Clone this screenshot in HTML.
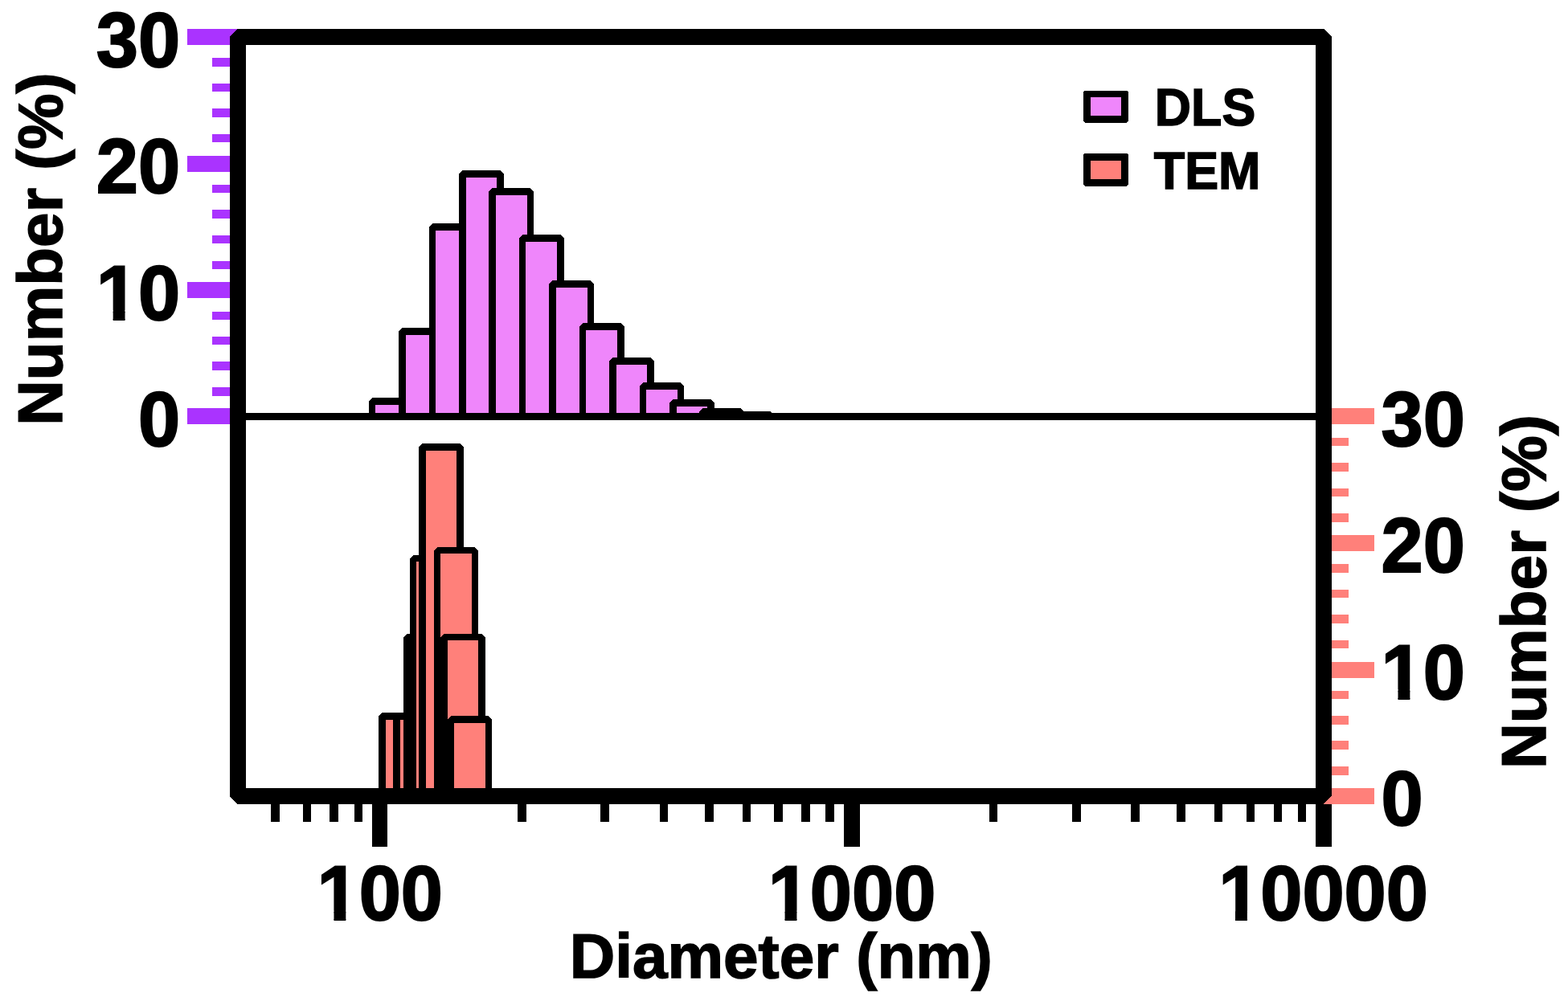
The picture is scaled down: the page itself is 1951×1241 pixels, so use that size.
<!DOCTYPE html>
<html lang="en">
<head>
<meta charset="utf-8">
<title>DLS TEM</title>
<style>
  html, body { margin: 0; padding: 0; background: #fff; }
  body { width: 1951px; height: 1241px; overflow: hidden; }
  svg { display: block; position: absolute; left: 0; top: 0; }
  .shapes { shape-rendering: crispEdges; }
  .labels text { font-family: "Liberation Sans", Arial, Helvetica, sans-serif; font-weight: bold; fill: #000; stroke: #000; stroke-linejoin: miter; }
</style>
</head>
<body>
<svg width="1951" height="1241" viewBox="0 0 1951 1241">
<defs>
<clipPath id="trim1"><path clip-rule="evenodd" d="M109.79 302.00H234.10V426.15H109.79ZM122.71 386.15H140.69V400.50H122.71ZM155.52 386.15H172.32V400.50H155.52Z"/></clipPath>
<clipPath id="trim2"><path clip-rule="evenodd" d="M1708.60 774.00H1832.91V898.15H1708.60ZM1721.53 858.15H1739.51V872.50H1721.53ZM1754.34 858.15H1771.13V872.50H1754.34Z"/></clipPath>
<clipPath id="trim3"><path clip-rule="evenodd" d="M384.57 1049.50H561.03V1173.65H384.57ZM397.49 1133.65H415.47V1148.00H397.49ZM430.30 1133.65H447.09V1148.00H430.30Z"/></clipPath>
<clipPath id="trim4"><path clip-rule="evenodd" d="M945.69 1049.50H1174.31V1173.65H945.69ZM958.61 1133.65H976.59V1148.00H958.61ZM991.42 1133.65H1008.22V1148.00H991.42Z"/></clipPath>
<clipPath id="trim5"><path clip-rule="evenodd" d="M1506.11 1049.50H1786.89V1173.65H1506.11ZM1519.03 1133.65H1537.02V1148.00H1519.03ZM1551.85 1133.65H1568.64V1148.00H1551.85Z"/></clipPath>
</defs>
<rect x="0" y="0" width="1951" height="1241" fill="#fff"/>
<g class="shapes">
<rect x="233" y="36" width="65" height="20" fill="#AA33FF"/>
<rect x="264" y="72" width="24" height="11" fill="#AA33FF"/>
<rect x="264" y="104" width="24" height="10" fill="#AA33FF"/>
<rect x="264" y="135" width="24" height="11" fill="#AA33FF"/>
<rect x="264" y="167" width="24" height="10" fill="#AA33FF"/>
<rect x="233" y="194" width="65" height="20" fill="#AA33FF"/>
<rect x="264" y="230" width="24" height="10" fill="#AA33FF"/>
<rect x="264" y="261" width="24" height="11" fill="#AA33FF"/>
<rect x="264" y="293" width="24" height="10" fill="#AA33FF"/>
<rect x="264" y="325" width="24" height="10" fill="#AA33FF"/>
<rect x="233" y="351" width="65" height="20" fill="#AA33FF"/>
<rect x="264" y="388" width="24" height="10" fill="#AA33FF"/>
<rect x="264" y="419" width="24" height="10" fill="#AA33FF"/>
<rect x="264" y="450" width="24" height="11" fill="#AA33FF"/>
<rect x="264" y="482" width="24" height="11" fill="#AA33FF"/>
<rect x="233" y="508" width="65" height="20" fill="#AA33FF"/>
<rect x="1644" y="508" width="66" height="20" fill="#FF807A"/>
<rect x="1655" y="545" width="23" height="10" fill="#FF807A"/>
<rect x="1655" y="576" width="23" height="11" fill="#FF807A"/>
<rect x="1655" y="608" width="23" height="10" fill="#FF807A"/>
<rect x="1655" y="639" width="23" height="11" fill="#FF807A"/>
<rect x="1644" y="666" width="66" height="20" fill="#FF807A"/>
<rect x="1655" y="702" width="23" height="11" fill="#FF807A"/>
<rect x="1655" y="734" width="23" height="10" fill="#FF807A"/>
<rect x="1655" y="765" width="23" height="11" fill="#FF807A"/>
<rect x="1655" y="797" width="23" height="10" fill="#FF807A"/>
<rect x="1644" y="824" width="66" height="20" fill="#FF807A"/>
<rect x="1655" y="860" width="23" height="10" fill="#FF807A"/>
<rect x="1655" y="891" width="23" height="11" fill="#FF807A"/>
<rect x="1655" y="922" width="23" height="11" fill="#FF807A"/>
<rect x="1655" y="954" width="23" height="11" fill="#FF807A"/>
<rect x="1644" y="981" width="66" height="20" fill="#FF807A"/>
<rect x="296" y="514" width="1351" height="9" fill="#000"/>
<polygon points="459,499.5 463.5,495 510.5,495 515,499.5 515,518 459,518" fill="#000"/>
<rect x="467" y="504" width="39" height="14" fill="#EF86FB"/>
<polygon points="496,412.5 500.5,408 547.5,408 552,412.5 552,518 496,518" fill="#000"/>
<rect x="505" y="417" width="38" height="101" fill="#EF86FB"/>
<polygon points="534,282.5 538.5,278 585.5,278 590,282.5 590,518 534,518" fill="#000"/>
<rect x="542" y="287" width="39" height="231" fill="#EF86FB"/>
<polygon points="571,216.5 575.5,212 622.5,212 627,216.5 627,518 571,518" fill="#000"/>
<rect x="580" y="221" width="38" height="297" fill="#EF86FB"/>
<polygon points="608,238.5 612.5,234 659.5,234 664,238.5 664,518 608,518" fill="#000"/>
<rect x="617" y="243" width="39" height="275" fill="#EF86FB"/>
<polygon points="646,296.5 650.5,292 697.5,292 702,296.5 702,518 646,518" fill="#000"/>
<rect x="654" y="301" width="39" height="217" fill="#EF86FB"/>
<polygon points="683,353.5 687.5,349 734.5,349 739,353.5 739,518 683,518" fill="#000"/>
<rect x="692" y="358" width="39" height="160" fill="#EF86FB"/>
<polygon points="721,406.5 725.5,402 772.5,402 777,406.5 777,518 721,518" fill="#000"/>
<rect x="729" y="411" width="39" height="107" fill="#EF86FB"/>
<polygon points="758,449.5 762.5,445 809.5,445 814,449.5 814,518 758,518" fill="#000"/>
<rect x="767" y="454" width="38" height="64" fill="#EF86FB"/>
<polygon points="796,480.5 800.5,476 846.5,476 851,480.5 851,518 796,518" fill="#000"/>
<rect x="804" y="485" width="39" height="33" fill="#EF86FB"/>
<polygon points="833,501.5 837.5,497 884.5,497 889,501.5 889,518 833,518" fill="#000"/>
<rect x="842" y="506" width="38" height="12" fill="#EF86FB"/>
<polygon points="870,512.5 874.5,508 921.5,508 926,512.5 926,518 870,518" fill="#000"/>
<rect x="879" y="517" width="38" height="1" fill="#EF86FB"/>
<polygon points="907,516.5 911.5,512 958.5,512 963,516.5 963,518 907,518" fill="#000"/>
<rect x="296" y="514" width="1351" height="9" fill="#000"/>
<polygon points="471,891.5 475.5,887 522.5,887 527,891.5 527,991 471,991" fill="#000"/>
<rect x="480" y="896" width="38" height="95" fill="#FF807A"/>
<polygon points="489,891.5 493.5,887 540.5,887 545,891.5 545,991 489,991" fill="#000"/>
<rect x="498" y="896" width="38" height="95" fill="#FF807A"/>
<polygon points="502,793.5 506.5,789 553.5,789 558,793.5 558,991 502,991" fill="#000"/>
<rect x="511" y="797" width="38" height="194" fill="#FF807A"/>
<polygon points="510,695.5 514.5,691 561.5,691 566,695.5 566,991 510,991" fill="#000"/>
<rect x="518" y="699" width="39" height="292" fill="#FF807A"/>
<polygon points="521,556.5 525.5,552 572.5,552 577,556.5 577,991 521,991" fill="#000"/>
<rect x="530" y="561" width="38" height="430" fill="#FF807A"/>
<polygon points="540,685.5 544.5,681 590.5,681 595,685.5 595,991 540,991" fill="#000"/>
<rect x="548" y="689" width="39" height="302" fill="#FF807A"/>
<polygon points="548,793.5 552.5,789 599.5,789 604,793.5 604,991 548,991" fill="#000"/>
<rect x="557" y="797" width="38" height="194" fill="#FF807A"/>
<polygon points="557,895.5 561.5,891 607.5,891 612,895.5 612,991 557,991" fill="#000"/>
<rect x="565" y="900" width="39" height="91" fill="#FF807A"/>
<path d="M286 45.5L295.5 36H1647.5L1657 45.5V990.5L1646.5 1001H295.5L286 991.5ZM306 56V981H1637V56Z" fill="#000" fill-rule="evenodd"/>
<rect x="463" y="1001" width="19" height="53" fill="#000"/>
<rect x="1050" y="1001" width="20" height="53" fill="#000"/>
<rect x="1637" y="1001" width="20" height="53" fill="#000"/>
<rect x="337" y="1001" width="11" height="22" fill="#000"/>
<rect x="377" y="1001" width="10" height="22" fill="#000"/>
<rect x="410" y="1001" width="11" height="22" fill="#000"/>
<rect x="441" y="1001" width="10" height="22" fill="#000"/>
<rect x="644" y="1001" width="11" height="22" fill="#000"/>
<rect x="747" y="1001" width="11" height="22" fill="#000"/>
<rect x="821" y="1001" width="10" height="22" fill="#000"/>
<rect x="877" y="1001" width="11" height="22" fill="#000"/>
<rect x="924" y="1001" width="10" height="22" fill="#000"/>
<rect x="963" y="1001" width="11" height="22" fill="#000"/>
<rect x="997" y="1001" width="11" height="22" fill="#000"/>
<rect x="1027" y="1001" width="11" height="22" fill="#000"/>
<rect x="1231" y="1001" width="10" height="22" fill="#000"/>
<rect x="1334" y="1001" width="11" height="22" fill="#000"/>
<rect x="1407" y="1001" width="11" height="22" fill="#000"/>
<rect x="1464" y="1001" width="11" height="22" fill="#000"/>
<rect x="1511" y="1001" width="10" height="22" fill="#000"/>
<rect x="1551" y="1001" width="10" height="22" fill="#000"/>
<rect x="1585" y="1001" width="10" height="22" fill="#000"/>
<rect x="1615" y="1001" width="10" height="22" fill="#000"/>
<polygon points="1348,114.5 1349.5,113 1402.5,113 1404,114.5 1404,150.5 1401.5,153 1350.5,153 1348,150.5" fill="#000"/>
<rect x="1357" y="121" width="38" height="23" fill="#EF86FB"/>
<polygon points="1348,192.5 1349.5,191 1402.5,191 1404,192.5 1404,229.5 1401.5,232 1350.5,232 1348,229.5" fill="#000"/>
<rect x="1357" y="200" width="38" height="23" fill="#FF807A"/>
</g>
<g class="labels">
<text transform="translate(224.1 82.9) scale(0.982 1)" font-size="95.5" text-anchor="end" stroke-width="2">30</text>
<text transform="translate(224.1 240.1) scale(0.982 1)" font-size="95.5" text-anchor="end" stroke-width="2">20</text>
<g clip-path="url(#trim1)"><text transform="translate(224.1 397.5) scale(0.982 1)" font-size="95.5" text-anchor="end" stroke-width="2">10</text></g>
<text transform="translate(224.1 554.8) scale(0.982 1)" font-size="95.5" text-anchor="end" stroke-width="2">0</text>
<text transform="translate(1718.6 554.9) scale(0.982 1)" font-size="95.5" text-anchor="start" stroke-width="2">30</text>
<text transform="translate(1718.6 712.2) scale(0.982 1)" font-size="95.5" text-anchor="start" stroke-width="2">20</text>
<g clip-path="url(#trim2)"><text transform="translate(1718.6 869.5) scale(0.982 1)" font-size="95.5" text-anchor="start" stroke-width="2">10</text></g>
<text transform="translate(1718.6 1027.4) scale(0.982 1)" font-size="95.5" text-anchor="start" stroke-width="2">0</text>
<g clip-path="url(#trim3)"><text transform="translate(472.8 1145) scale(0.982 1)" font-size="95.5" text-anchor="middle" stroke-width="2">100</text></g>
<g clip-path="url(#trim4)"><text transform="translate(1060 1145) scale(0.982 1)" font-size="95.5" text-anchor="middle" stroke-width="2">1000</text></g>
<g clip-path="url(#trim5)"><text transform="translate(1646.5 1145) scale(0.982 1)" font-size="95.5" text-anchor="middle" stroke-width="2">10000</text></g>
<text transform="translate(708.8 1217.1) scale(1.003 1)" font-size="78" text-anchor="start" stroke-width="1.5">Diameter (nm)</text>
<text transform="translate(77.25 529.7) rotate(-90) scale(1.004 1)" font-size="78" text-anchor="start" stroke-width="1.5">Number (%)</text>
<text transform="translate(1923.25 957.1) rotate(-90) scale(1.008 1)" font-size="78" text-anchor="start" stroke-width="1.5">Number (%)</text>
<text transform="translate(1436.8 156.15) scale(0.98 1.02)" font-size="64" text-anchor="start" stroke-width="1.5">DLS</text>
<text transform="translate(1435.75 235.15) scale(0.9825 1.02)" font-size="64" text-anchor="start" stroke-width="1.5">TEM</text>
</g>
</svg>
</body>
</html>
